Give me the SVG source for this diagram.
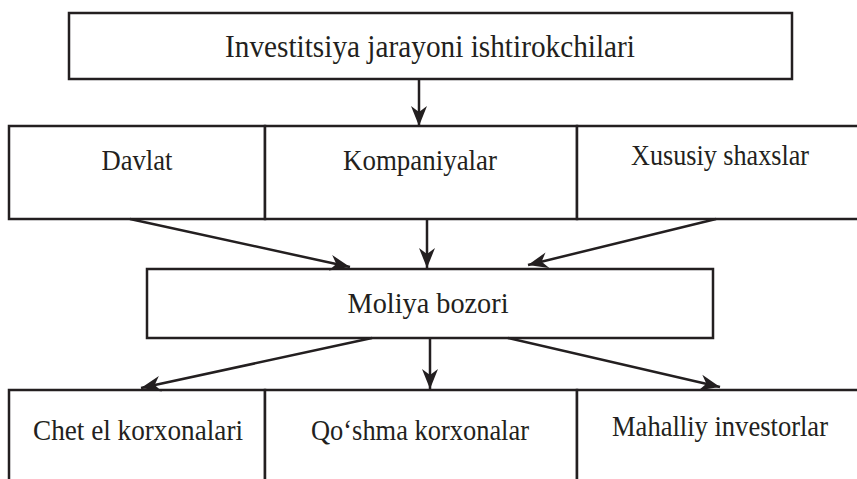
<svg xmlns="http://www.w3.org/2000/svg" width="857" height="479" viewBox="0 0 857 479">
<style>
.box{fill:#fff;stroke:#231f20;stroke-width:2.5}
.lbl{font-family:"Liberation Serif","Times New Roman",serif;fill:#231f20;text-anchor:middle}
.con{stroke:#231f20;stroke-width:2.5;fill:none;marker-end:url(#ah)}
</style>
<defs>
<marker id="ah" markerUnits="userSpaceOnUse" markerWidth="22" markerHeight="18" viewBox="0 0 22 18" refX="20" refY="9" orient="auto">
<path d="M0,1 L20,9 L0,17 L6,9 Z" fill="#231f20"/>
</marker>
</defs>
<rect width="857" height="479" fill="#fff"/>
<g id="n-top">
<rect class="box" x="69" y="13" width="723" height="66"/>
<text class="lbl" x="430" y="57" font-size="32" textLength="410" lengthAdjust="spacingAndGlyphs">Investitsiya jarayoni ishtirokchilari</text>
</g>
<g id="n-davlat">
<rect class="box" x="9" y="126" width="256" height="93"/>
<text class="lbl" x="137" y="170" font-size="29" textLength="71" lengthAdjust="spacingAndGlyphs">Davlat</text>
</g>
<g id="n-kompaniyalar">
<rect class="box" x="265" y="126" width="312" height="93"/>
<text class="lbl" x="420" y="170" font-size="29" textLength="154" lengthAdjust="spacingAndGlyphs">Kompaniyalar</text>
</g>
<g id="n-xususiy">
<rect class="box" x="577" y="126" width="290" height="93"/>
<text class="lbl" x="720" y="165" font-size="29" textLength="178" lengthAdjust="spacingAndGlyphs">Xususiy  shaxslar</text>
</g>
<g id="n-moliya">
<rect class="box" x="147" y="269" width="566" height="69"/>
<text class="lbl" x="428" y="313" font-size="30" textLength="161" lengthAdjust="spacingAndGlyphs">Moliya bozori</text>
</g>
<g id="n-chet">
<rect class="box" x="9" y="390" width="256" height="100"/>
<text class="lbl" x="138" y="440" font-size="29" textLength="210" lengthAdjust="spacingAndGlyphs">Chet  el  korxonalari</text>
</g>
<g id="n-qoshma">
<rect class="box" x="265" y="390" width="312" height="100"/>
<text class="lbl" x="420" y="440" font-size="29" textLength="218" lengthAdjust="spacingAndGlyphs">Qo‘shma korxonalar</text>
</g>
<g id="n-mahalliy">
<rect class="box" x="577" y="390" width="290" height="100"/>
<text class="lbl" x="720" y="436" font-size="29" textLength="216" lengthAdjust="spacingAndGlyphs">Mahalliy  investorlar</text>
</g>
<g id="connectors">
<line class="con" x1="419" y1="79" x2="419" y2="126"/>
<line class="con" x1="130" y1="219" x2="350" y2="267"/>
<line class="con" x1="427" y1="219" x2="427" y2="268"/>
<line class="con" x1="716" y1="219" x2="528" y2="265"/>
<line class="con" x1="372" y1="338" x2="141" y2="388"/>
<line class="con" x1="430" y1="338" x2="430" y2="389"/>
<line class="con" x1="508" y1="338" x2="720" y2="387"/>
</g>
</svg>
